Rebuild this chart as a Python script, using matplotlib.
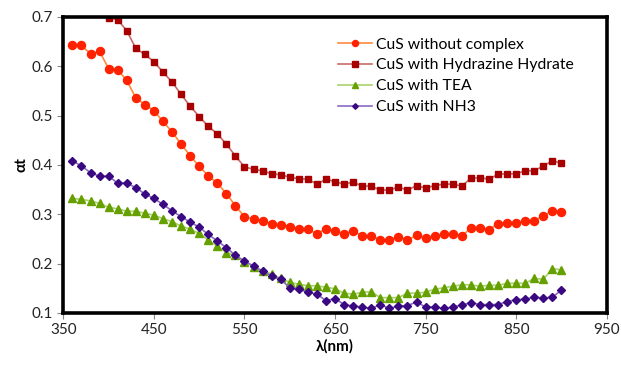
import numpy as np
import matplotlib.pyplot as plt

wl = np.arange(360, 901, 10)

without_complex = [0.642, 0.642, 0.625, 0.630, 0.595, 0.593, 0.571, 0.536, 0.522, 0.510,
                   0.488, 0.467, 0.442, 0.419, 0.397, 0.378, 0.363, 0.342, 0.317, 0.295,
                   0.290, 0.287, 0.280, 0.279, 0.275, 0.271, 0.270, 0.260, 0.271, 0.266,
                   0.260, 0.266, 0.256, 0.256, 0.248, 0.248, 0.254, 0.248, 0.257, 0.252,
                   0.256, 0.260, 0.260, 0.256, 0.272, 0.273, 0.269, 0.281, 0.283, 0.283,
                   0.287, 0.287, 0.297, 0.307, 0.304]

# hydrazine series starts at 400 nm (earlier points are above the axis)
wl_hyd = np.arange(400, 901, 10)
hydrazine = [0.698, 0.694, 0.672, 0.636, 0.624, 0.609, 0.588, 0.568, 0.543, 0.519,
             0.498, 0.478, 0.463, 0.442, 0.418, 0.396, 0.391, 0.388, 0.382, 0.380,
             0.375, 0.372, 0.371, 0.361, 0.371, 0.366, 0.361, 0.365, 0.357, 0.357,
             0.349, 0.349, 0.355, 0.349, 0.358, 0.353, 0.358, 0.361, 0.361, 0.357,
             0.373, 0.374, 0.371, 0.381, 0.382, 0.382, 0.388, 0.388, 0.398, 0.408,
             0.404]

tea = [0.332, 0.330, 0.327, 0.322, 0.314, 0.311, 0.306, 0.306, 0.302, 0.298,
       0.291, 0.285, 0.276, 0.270, 0.261, 0.248, 0.235, 0.222, 0.217, 0.204,
       0.194, 0.185, 0.179, 0.170, 0.162, 0.158, 0.155, 0.155, 0.152, 0.149,
       0.140, 0.138, 0.142, 0.143, 0.131, 0.131, 0.131, 0.140, 0.140, 0.142,
       0.148, 0.151, 0.154, 0.157, 0.157, 0.154, 0.156, 0.156, 0.160, 0.160,
       0.160, 0.170, 0.168, 0.190, 0.187]

nh3 = [0.408, 0.398, 0.384, 0.377, 0.377, 0.363, 0.363, 0.354, 0.341, 0.332,
       0.320, 0.307, 0.295, 0.284, 0.274, 0.259, 0.246, 0.232, 0.217, 0.205,
       0.195, 0.185, 0.175, 0.168, 0.151, 0.148, 0.142, 0.138, 0.125, 0.129,
       0.117, 0.114, 0.112, 0.109, 0.117, 0.109, 0.114, 0.115, 0.122, 0.112,
       0.112, 0.109, 0.112, 0.116, 0.121, 0.117, 0.117, 0.117, 0.123, 0.127,
       0.128, 0.132, 0.130, 0.132, 0.146]

plt.rcParams['font.family'] = ['Lato', 'DejaVu Sans']

fig = plt.figure(figsize=(6.21, 3.66), dpi=100)
ax = fig.add_axes([0.102, 0.145, 0.875, 0.809])

ax.plot(wl, without_complex, color='#FF8A3D', lw=1.2, marker='o', ms=5.8,
        mfc='#FF2200', mec='#FF2200', label='CuS without complex')
ax.plot(wl_hyd, hydrazine, color='#C86A6A', lw=1.2, marker='s', ms=5.0,
        mfc='#A80000', mec='#A80000', label='CuS with Hydrazine Hydrate')
ax.plot(wl, tea, color='#A8D26A', lw=1.2, marker='^', ms=5.4,
        mfc='#66A000', mec='#66A000', label='CuS with TEA')
ax.plot(wl, nh3, color='#8A6CC0', lw=1.2, marker='D', ms=3.8,
        mfc='#3A0880', mec='#3A0880', label='CuS with NH3')

ax.set_xlim(350, 950)
ax.set_ylim(0.1, 0.7)
ax.set_xticks(np.arange(350, 951, 100))
ax.set_yticks(np.arange(0.1, 0.71, 0.1))
ax.set_yticklabels(['0.1', '0.2', '0.3', '0.4', '0.5', '0.6', '0.7'])
ax.tick_params(direction='out', length=4, width=0.8, color='#888888',
               labelsize=11, labelcolor='#222222')

for s in ax.spines.values():
    s.set_linewidth(2.6)
    s.set_color('black')

ax.set_xlabel('λ(nm)', fontsize=11, fontweight='bold', labelpad=1)
ax.set_ylabel('αt', fontsize=11, fontweight='bold', labelpad=2)

ax.legend(loc='upper left', bbox_to_anchor=(0.505, 0.93), frameon=False,
          fontsize=11.3, handlelength=2.2, handletextpad=0.25, markerscale=0.75,
          labelspacing=0.44, borderaxespad=0, borderpad=0)

fig.savefig('out.png', dpi=100)
